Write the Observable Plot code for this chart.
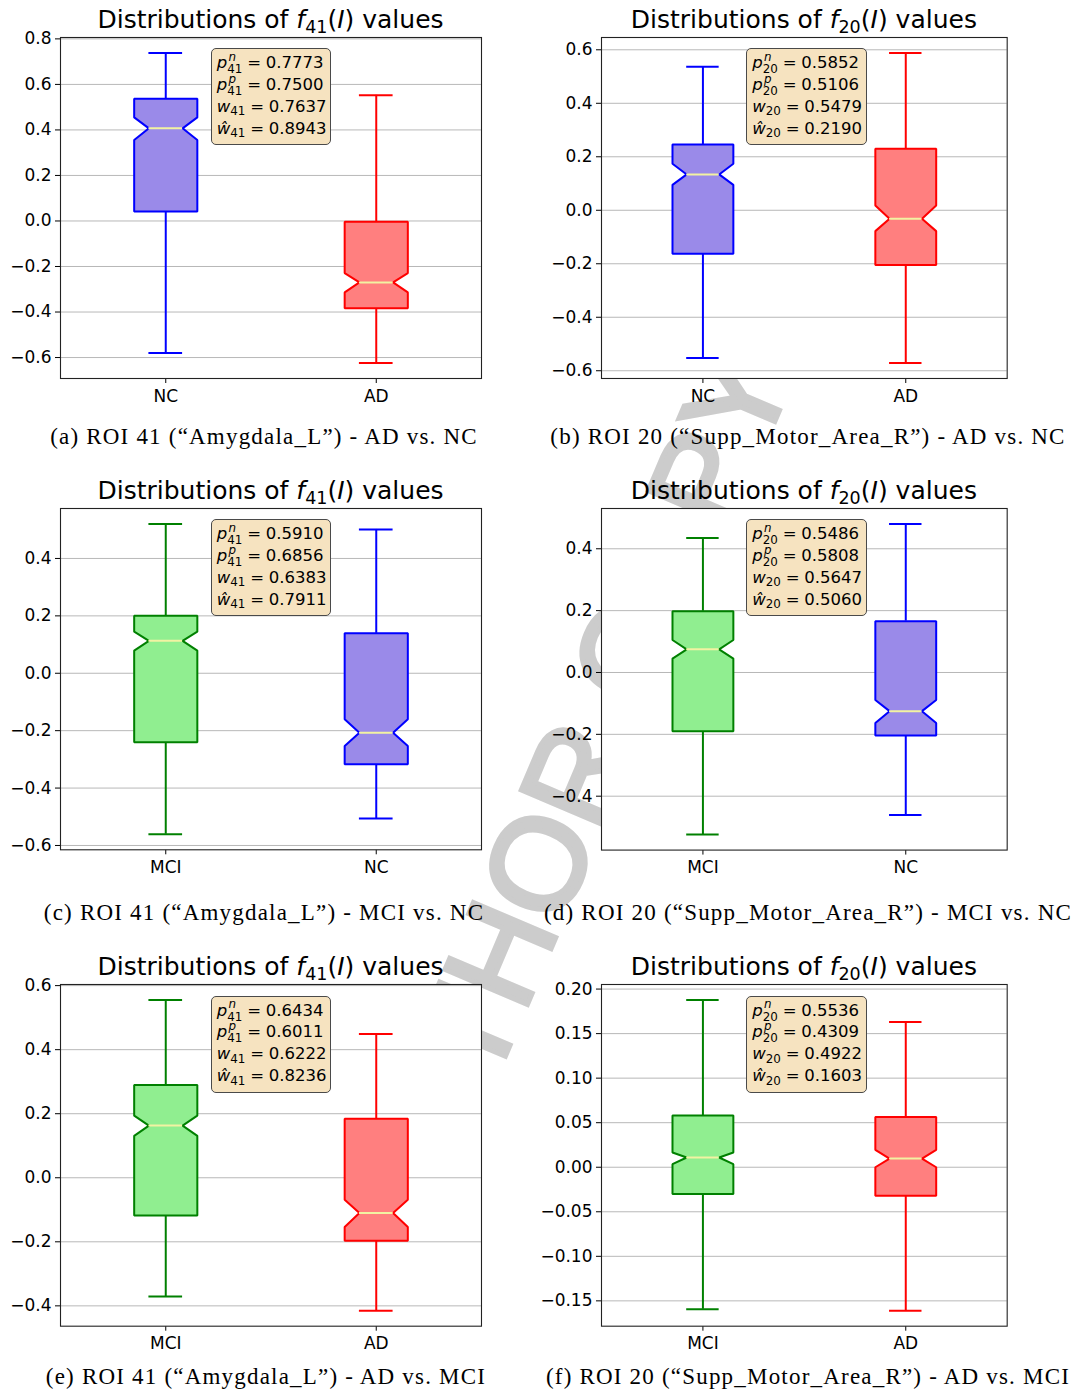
<!DOCTYPE html>
<html><head><meta charset="utf-8">
<script src="https://cdn.jsdelivr.net/npm/d3@7"></script>
<script src="https://cdn.jsdelivr.net/npm/@observablehq/plot@0.6"></script>
<style>
body{margin:0;background:#fff;}
#page{position:relative;width:1073px;height:1390px;overflow:hidden;font-family:"DejaVu Sans";color:#000;}
.abs{position:absolute;}
.title{font-size:25px;white-space:nowrap;transform:translate(-50%,-50%);line-height:1;}
.title sub{font-size:0.7em;vertical-align:-0.3em;line-height:0;}
.cap{font-family:"Liberation Serif";font-size:23px;letter-spacing:1.2px;white-space:nowrap;transform:translate(-50%,-50%);line-height:1;}
.ann{background:#f6e3c0;border:1px solid #4a4a4a;border-radius:5px;padding:3px 4px 5px 5px;font-size:16.5px;white-space:nowrap;}
.ann .row{height:21.8px;line-height:21.8px;}
.ss{font-size:0.72em;}
.sub{position:relative;top:0.42em;}
.sub1{position:relative;top:0.3em;}
.sup{display:inline-block;width:1.272em;margin-left:-1.272em;position:relative;top:-0.62em;font-style:italic;padding-left:0.1em;box-sizing:border-box;}
.eq{margin:0 0.28em 0 0.3em;}
</style>
</head><body>
<div id="page">
<svg class="abs" style="left:0;top:0" width="1073" height="1390">
  <text x="566" y="797" transform="rotate(-67 566 797)" text-anchor="middle" dy="0.35em" font-family="Liberation Sans" font-size="130" fill="#cccccc" stroke="#cccccc" stroke-width="5">AUTHOR COPY</text>
</svg>
</div>
<script>
// ---------- data ----------
const groupsA = ["NC", "AD"];
const loA  = [-0.580, -0.624];
const q1A  = [ 0.042, -0.383];
const nloA = [ 0.356, -0.314];
const medA = [ 0.407, -0.270];
const nhiA = [ 0.455, -0.229];
const q3A  = [ 0.537, -0.003];
const hiA  = [ 0.738,  0.552];
const yTicksA = [-0.6, -0.4, -0.2, 0.0, 0.2, 0.4, 0.6, 0.8];
const statsA = ["0.7773", "0.7500", "0.7637", "0.8943"];

const groupsB = ["NC", "AD"];
const loB  = [-0.552, -0.571];
const q1B  = [-0.163, -0.205];
const nloB = [ 0.095, -0.078];
const medB = [ 0.134, -0.032];
const nhiB = [ 0.174,  0.0175];
const q3B  = [ 0.246,  0.230];
const hiB  = [ 0.537,  0.588];
const yTicksB = [-0.6, -0.4, -0.2, 0.0, 0.2, 0.4, 0.6];
const statsB = ["0.5852", "0.5106", "0.5479", "0.2190"];

const groupsC = ["MCI", "NC"];
const loC  = [-0.561, -0.506];
const q1C  = [-0.240, -0.317];
const nloC = [ 0.079, -0.253];
const medC = [ 0.113, -0.207];
const nhiC = [ 0.145, -0.160];
const q3C  = [ 0.200,  0.139];
const hiC  = [ 0.520,  0.501];
const yTicksC = [-0.6, -0.4, -0.2, 0.0, 0.2, 0.4];
const statsC = ["0.5910", "0.6856", "0.6383", "0.7911"];

const groupsD = ["MCI", "NC"];
const loD  = [-0.524, -0.461];
const q1D  = [-0.190, -0.204];
const nloD = [ 0.045, -0.163];
const medD = [ 0.075, -0.125];
const nhiD = [ 0.105, -0.089];
const q3D  = [ 0.198,  0.166];
const hiD  = [ 0.435,  0.480];
const yTicksD = [-0.4, -0.2, 0.0, 0.2, 0.4];
const statsD = ["0.5486", "0.5808", "0.5647", "0.5060"];

const groupsE = ["MCI", "AD"];
const loE  = [-0.371, -0.415];
const q1E  = [-0.118, -0.197];
const nloE = [ 0.131, -0.154];
const medE = [ 0.163, -0.110];
const nhiE = [ 0.194, -0.069];
const q3E  = [ 0.290,  0.184];
const hiE  = [ 0.555,  0.449];
const yTicksE = [-0.4, -0.2, 0.0, 0.2, 0.4, 0.6];
const statsE = ["0.6434", "0.6011", "0.6222", "0.8236"];

const groupsF = ["MCI", "AD"];
const loF  = [-0.1595, -0.161];
const q1F  = [-0.0300, -0.032];
const nloF = [ 0.0034,  0.0000];
const medF = [ 0.0109,  0.0097];
const nhiF = [ 0.0165,  0.0195];
const q3F  = [ 0.0580,  0.0565];
const hiF  = [ 0.1877,  0.1630];
const yTicksF = [-0.15, -0.10, -0.05, 0.00, 0.05, 0.10, 0.15, 0.20];
const statsF = ["0.5536", "0.4309", "0.4922", "0.1603"];

const roiIndex = ["41", "20", "41", "20", "41", "20"];
const captions = [
  "(a) ROI 41 (\u201cAmygdala_L\u201d) - AD vs. NC",
  "(b) ROI 20 (\u201cSupp_Motor_Area_R\u201d) - AD vs. NC",
  "(c) ROI 41 (\u201cAmygdala_L\u201d) - MCI vs. NC",
  "(d) ROI 20 (\u201cSupp_Motor_Area_R\u201d) - MCI vs. NC",
  "(e) ROI 41 (\u201cAmygdala_L\u201d) - AD vs. MCI",
  "(f) ROI 20 (\u201cSupp_Motor_Area_R\u201d) - AD vs. MCI"
];

// ---------- styles ----------
const fillOf = {NC: "#9a8ae9", AD: "#ff7f7f", MCI: "#90ee90"};
const strokeOf = {NC: "#0000ff", AD: "#ff0000", MCI: "#008000"};
const medianColor = "#f2f2a2";

// ---------- layout ----------
const frames = [
  {x0: 60,  x1: 481,    y0: 36.7,  y1: 377.7,  cx: 264, cy: 436,  dec: 1},
  {x0: 601, x1: 1006.7, y0: 36.7,  y1: 377.7,  cx: 808, cy: 436,  dec: 1},
  {x0: 60,  x1: 481,    y0: 507.7, y1: 849,    cx: 264, cy: 912,  dec: 1},
  {x0: 601, x1: 1006.7, y0: 507.7, y1: 849.3,  cx: 808, cy: 912,  dec: 1},
  {x0: 60,  x1: 481,    y0: 984,   y1: 1325.7, cx: 266, cy: 1376, dec: 1},
  {x0: 601, x1: 1006.7, y0: 984,   y1: 1325.7, cx: 808, cy: 1376, dec: 2}
];

const panels = [
  {groups: groupsA, lo: loA, q1: q1A, nlo: nloA, med: medA, nhi: nhiA, q3: q3A, hi: hiA, ticks: yTicksA, stats: statsA},
  {groups: groupsB, lo: loB, q1: q1B, nlo: nloB, med: medB, nhi: nhiB, q3: q3B, hi: hiB, ticks: yTicksB, stats: statsB},
  {groups: groupsC, lo: loC, q1: q1C, nlo: nloC, med: medC, nhi: nhiC, q3: q3C, hi: hiC, ticks: yTicksC, stats: statsC},
  {groups: groupsD, lo: loD, q1: q1D, nlo: nloD, med: medD, nhi: nhiD, q3: q3D, hi: hiD, ticks: yTicksD, stats: statsD},
  {groups: groupsE, lo: loE, q1: q1E, nlo: nloE, med: medE, nhi: nhiE, q3: q3E, hi: hiE, ticks: yTicksE, stats: statsE},
  {groups: groupsF, lo: loF, q1: q1F, nlo: nloF, med: medF, nhi: nhiF, q3: q3F, hi: hiF, ticks: yTicksF, stats: statsF}
];

const page = document.getElementById("page");
const HW = 0.15, WAIST = 0.08, CAP = 0.08;
const mL = 62, mR = 12, mT = 8, mB = 40;

panels.forEach((p, k) => {
  const f = frames[k];
  const ymin = d3.min(p.lo), ymax = d3.max(p.hi);
  const pad = (ymax - ymin) * 0.05;
  const fmt = d => (d < -1e-9 ? "\u2212" : "") + Math.abs(d).toFixed(f.dec);
  const marks = [Plot.frame({fill: "white", stroke: "none"}),
                 Plot.ruleY(p.ticks, {stroke: "#b8b8b8", strokeWidth: 1})];
  p.groups.forEach((g, i) => {
    const x = i + 1;
    const pts = [
      [x - HW, p.q1[i]], [x + HW, p.q1[i]], [x + HW, p.nlo[i]], [x + WAIST, p.med[i]],
      [x + HW, p.nhi[i]], [x + HW, p.q3[i]], [x - HW, p.q3[i]], [x - HW, p.nhi[i]],
      [x - WAIST, p.med[i]], [x - HW, p.nlo[i]]
    ].map(([px, py]) => ({px, py}));
    const row = [{x, lo: p.lo[i], q1: p.q1[i], q3: p.q3[i], hi: p.hi[i], med: p.med[i]}];
    marks.push(
      Plot.ruleX(row, {x: "x", y1: "q3", y2: "hi", stroke: strokeOf[g], strokeWidth: 2}),
      Plot.ruleX(row, {x: "x", y1: "lo", y2: "q1", stroke: strokeOf[g], strokeWidth: 2}),
      Plot.ruleY(row, {y: "hi", x1: d => d.x - CAP, x2: d => d.x + CAP, stroke: strokeOf[g], strokeWidth: 2}),
      Plot.ruleY(row, {y: "lo", x1: d => d.x - CAP, x2: d => d.x + CAP, stroke: strokeOf[g], strokeWidth: 2}),
      Plot.line(pts, {x: "px", y: "py", curve: "linear-closed", fill: fillOf[g], stroke: strokeOf[g], strokeWidth: 2, strokeLinejoin: "miter"}),
      Plot.ruleY(row, {y: "med", x1: d => d.x - WAIST, x2: d => d.x + WAIST, stroke: medianColor, strokeWidth: 2})
    );
  });
  marks.push(Plot.frame({stroke: "#222", strokeWidth: 1.1, fill: "none"}));

  const W = (f.x1 - f.x0) + mL + mR, H = (f.y1 - f.y0) + mT + mB;
  const svg = Plot.plot({
    width: W, height: H,
    marginLeft: mL, marginRight: mR, marginTop: mT, marginBottom: mB,
    style: {background: "transparent", fontFamily: "DejaVu Sans", fontSize: "17px", color: "black", overflow: "visible"},
    x: {domain: [0.5, 2.5], ticks: [1, 2], tickFormat: d => p.groups[d - 1], tickSize: 5, tickPadding: 6, label: null},
    y: {domain: [ymin - pad, ymax + pad], ticks: p.ticks, tickFormat: fmt, tickSize: 5, tickPadding: 4, label: null},
    marks
  });
  svg.classList.add("abs");
  svg.style.left = (f.x0 - mL) + "px";
  svg.style.top = (f.y0 - mT) + "px";
  page.appendChild(svg);

  // title
  const t = document.createElement("div");
  t.className = "abs title";
  t.style.left = ((f.x0 + f.x1) / 2) + "px";
  t.style.top = (f.y0 - 18) + "px";
  t.innerHTML = `Distributions of <i>f</i><sub>${roiIndex[k]}</sub>(<i>I</i>) values`;
  page.appendChild(t);

  // annotation box
  const r = roiIndex[k];
  const a = document.createElement("div");
  a.className = "abs ann";
  a.style.left = (f.x0 + 0.358 * (f.x1 - f.x0)) + "px";
  a.style.top = (f.y0 + 11.6) + "px";
  a.innerHTML =
    `<div class="row"><i>p</i><span class="ss"><span class="sub">${r}</span><span class="sup">n</span></span><span class="eq">=</span>${p.stats[0]}</div>` +
    `<div class="row"><i>p</i><span class="ss"><span class="sub">${r}</span><span class="sup">p</span></span><span class="eq">=</span>${p.stats[1]}</div>` +
    `<div class="row"><i>w</i><span class="ss"><span class="sub1">${r}</span></span><span class="eq">=</span>${p.stats[2]}</div>` +
    `<div class="row"><i>\u0175</i><span class="ss"><span class="sub1">${r}</span></span><span class="eq">=</span>${p.stats[3]}</div>`;
  page.appendChild(a);

  // caption
  const c = document.createElement("div");
  c.className = "abs cap";
  c.style.left = f.cx + "px";
  c.style.top = f.cy + "px";
  c.textContent = captions[k];
  page.appendChild(c);
});
</script>
</body></html>
